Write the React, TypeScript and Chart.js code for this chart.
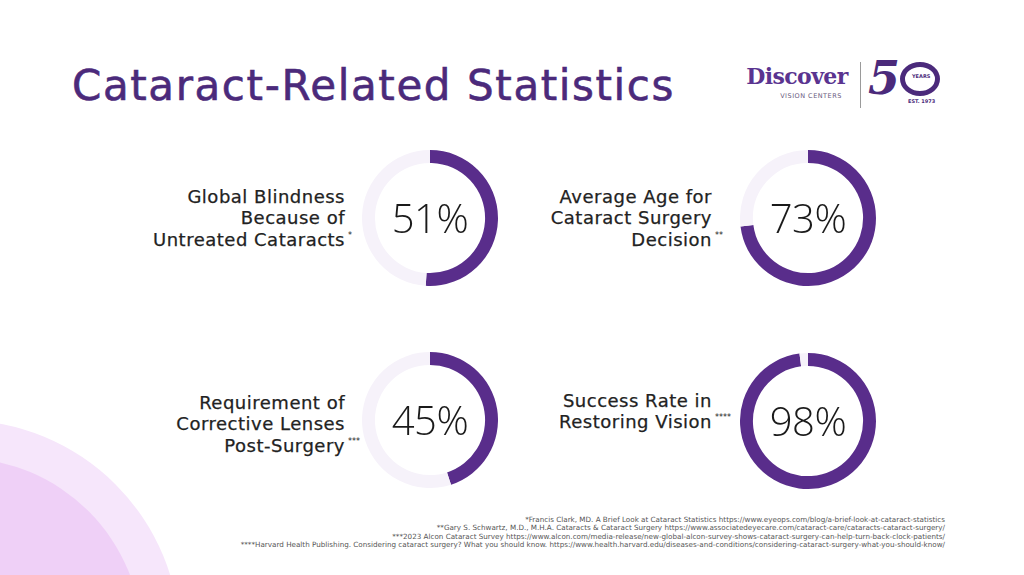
import React, { useEffect, useRef } from "react";
import { Chart, registerables } from "chart.js";

Chart.register(...registerables);

const TITLE = "Cataract-Related Statistics";
const statLabels = [
  ["Global Blindness", "Because of", "Untreated Cataracts"],
  ["Average Age for", "Cataract Surgery", "Decision"],
  ["Requirement of", "Corrective Lenses", "Post-Surgery"],
  ["Success Rate in", "Restoring Vision"],
];
const statMarkers = ["*", "**", "***", "****"];
const statValues = [51, 73, 45, 98];
const footnotes = [
  "*Francis Clark, MD. A Brief Look at Cataract Statistics https://www.eyeops.com/blog/a-brief-look-at-cataract-statistics",
  "**Gary S. Schwartz, M.D., M.H.A. Cataracts & Cataract Surgery https://www.associatedeyecare.com/cataract-care/cataracts-cataract-surgery/",
  "***2023 Alcon Cataract Survey https://www.alcon.com/media-release/new-global-alcon-survey-shows-cataract-surgery-can-help-turn-back-clock-patients/",
  "****Harvard Health Publishing. Considering cataract surgery? What you should know. https://www.health.harvard.edu/diseases-and-conditions/considering-cataract-surgery-what-you-should-know/",
];

const PURPLE = "#592d8b";
const LIGHT = "#f6f2fa";
const TITLE_COLOR = "#4b2a7b";
const TEXT = "#222222";
const SANS = "'DejaVu Sans', sans-serif";

// layout (positions only)
const centers = [
  { x: 430, y: 218 },
  { x: 808, y: 218 },
  { x: 430, y: 420 },
  { x: 808, y: 421 },
];
const labelRight = [345, 712, 345, 712];
const labelCenterY = [218, 218, 424, 411];
const R = 68;
const LH = 21.5;

function Ring({ value, cx, cy }: { value: number; cx: number; cy: number }) {
  const ref = useRef<HTMLCanvasElement | null>(null);
  useEffect(() => {
    if (!ref.current) return;
    const chart = new Chart(ref.current, {
      type: "doughnut",
      data: {
        labels: ["value", "rest"],
        datasets: [
          {
            data: [value, 100 - value],
            backgroundColor: [PURPLE, LIGHT],
            borderWidth: 0,
            hoverOffset: 0,
          },
        ],
      },
      options: {
        responsive: false,
        animation: false,
        cutout: "81%",
        rotation: 0,
        events: [],
        layout: { padding: 0 },
        plugins: { legend: { display: false }, tooltip: { enabled: false } },
      },
    });
    return () => chart.destroy();
  }, [value]);
  return (
    <>
      <canvas
        ref={ref}
        width={R * 2}
        height={R * 2}
        style={{ position: "absolute", left: cx - R, top: cy - R, width: R * 2, height: R * 2 }}
      />
      <div
        style={{
          position: "absolute",
          left: cx - 60,
          top: cy - 25,
          width: 120,
          height: 50,
          lineHeight: "50px",
          textAlign: "center",
          fontFamily: "'Open Sans', sans-serif",
          fontWeight: 300,
          fontSize: 40,
          color: "#1a1a1a",
          letterSpacing: -0.5,
        }}
      >
        {value}%
      </div>
    </>
  );
}

export default function App() {
  return (
    <div
      style={{
        position: "fixed",
        left: 0,
        top: 0,
        width: 1024,
        height: 575,
        overflow: "hidden",
        background: "#ffffff",
        fontFamily: SANS,
      }}
    >
      {/* decorative circles */}
      <div
        style={{
          position: "absolute",
          left: -40 - 220,
          top: 640 - 220,
          width: 440,
          height: 440,
          borderRadius: "50%",
          background: "#f6e6fb",
        }}
      />
      <div
        style={{
          position: "absolute",
          left: -40 - 182,
          top: 640 - 182,
          width: 364,
          height: 364,
          borderRadius: "50%",
          background: "#efd0f7",
        }}
      />

      {/* title */}
      <div
        style={{
          position: "absolute",
          left: 72,
          top: 58,
          fontSize: 42,
          fontWeight: 400,
          color: TITLE_COLOR,
          letterSpacing: 1.6,
          lineHeight: "56px",
          whiteSpace: "nowrap",
          WebkitTextStroke: "0.6px " + TITLE_COLOR,
        }}
      >
        {TITLE}
      </div>

      {/* logo */}
      <div style={{ position: "absolute", left: 742, top: 60, width: 110, textAlign: "center" }}>
        <div
          style={{
            fontFamily: "'DejaVu Serif', 'Liberation Serif', serif",
            fontWeight: 700,
            fontSize: 22,
            color: "#5a3490",
            lineHeight: "32px",
            letterSpacing: -0.6,
          }}
        >
          Discover
        </div>
        <div style={{ fontSize: 6.5, color: "#6a5a80", letterSpacing: 0.5, lineHeight: "8px", marginLeft: 28 }}>
          VISION CENTERS
        </div>
      </div>
      <div style={{ position: "absolute", left: 860, top: 62, width: 1, height: 46, background: "#9a9a9a" }} />
      <div
        style={{
          position: "absolute",
          left: 868,
          top: 50,
          fontFamily: "'DejaVu Serif', serif",
          fontStyle: "italic",
          fontWeight: 700,
          fontSize: 46,
          color: "#4b2a7b",
          lineHeight: "56px",
        }}
      >
        5
      </div>
      <div
        style={{
          position: "absolute",
          left: 900,
          top: 62,
          width: 40,
          height: 34,
          borderRadius: "50%",
          border: "5px solid #4b2a7b",
          boxSizing: "border-box",
        }}
      />
      <div style={{ position: "absolute", left: 912, top: 73, fontSize: 5, color: "#4b2a7b", fontWeight: 700 }}>YEARS</div>
      <div style={{ position: "absolute", left: 908, top: 98, fontSize: 5, color: "#4b2a7b", fontWeight: 700 }}>EST. 1973</div>

      {/* labels */}
      {statLabels.map((lines, i) => (
        <div
          key={"l" + i}
          style={{
            position: "absolute",
            right: 1024 - labelRight[i],
            top: labelCenterY[i] - (lines.length * LH) / 2,
            textAlign: "right",
            fontSize: 18,
            fontWeight: 400,
            letterSpacing: 0.5,
            lineHeight: LH + "px",
            color: TEXT,
            whiteSpace: "nowrap",
            WebkitTextStroke: "0.25px " + TEXT,
          }}
        >
          {lines.map((ln, j) => (
            <div key={j}>
              {j === lines.length - 1 ? (
                <span style={{ position: "relative" }}>
                  {ln}
                  <span
                    style={{
                      position: "absolute",
                      left: "100%",
                      top: 3,
                      marginLeft: 3,
                      fontSize: 8,
                      lineHeight: "8px",
                      letterSpacing: 0,
                      WebkitTextStroke: "0px",
                    }}
                  >
                    {statMarkers[i]}
                  </span>
                </span>
              ) : (
                ln
              )}
            </div>
          ))}
        </div>
      ))}

      {statValues.map((v, i) => (
        <Ring key={"r" + i} value={v} cx={centers[i].x} cy={centers[i].y} />
      ))}

      {/* footnotes */}
      <div
        style={{
          position: "absolute",
          right: 1024 - 945,
          top: 516,
          textAlign: "right",
          fontSize: 7.2,
          lineHeight: "8.4px",
          color: "#555555",
          whiteSpace: "nowrap",
        }}
      >
        {footnotes.map((f, i) => (
          <div key={i}>{f}</div>
        ))}
      </div>
    </div>
  );
}
